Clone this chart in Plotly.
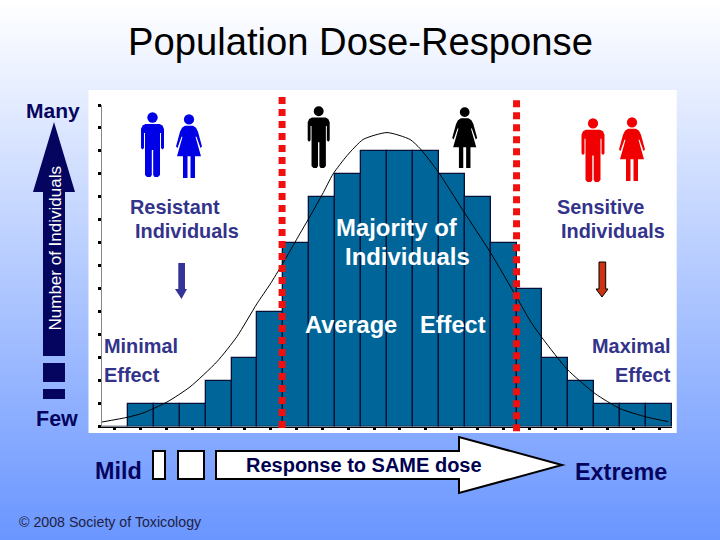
import plotly.graph_objects as go

W, H = 720, 540
FONT = "Liberation Sans"

# ---- data ----
bin_index = list(range(22))
individuals = [0, 1, 1, 1, 2, 3, 5, 8, 10, 11, 12, 12, 12, 11, 10, 8, 6, 3, 2, 1, 1, 1]
curve_x = [-0.5, 0.5, 1.08, 2.01, 2.9, 3.94, 4.71, 5.48, 5.99, 6.45, 7.14, 7.45, 8.0, 8.42, 8.96,
           9.58, 10.5, 11.39, 11.78, 12.47, 13.44, 14.48, 15.52, 16.03, 16.53, 17.45, 18.54,
           19.5, 20.54, 21.35]
curve_y = [0.2, 0.41, 0.59, 1.07, 1.73, 2.83, 3.92, 5.35, 6.2, 7.05, 8.4, 9.0, 10.1, 11.0, 11.8,
           12.5, 12.8, 12.5, 12.1, 11.1, 9.4, 7.6, 5.6, 4.6, 3.8, 2.5, 1.43, 0.78, 0.41, 0.22]
low_cut_x = [6.45, 6.45]
low_cut_y = [-0.06, 14.56]
high_cut_x = [15.5, 15.5]
high_cut_y = [-0.2, 14.43]

TITLE = "Population Dose-Response"

NAVY = "#05055F"
LABEL = "#33338A"
BAR = "#006699"
RED = "#F01010"

MAN = [(0, 12), (7, 12), (10, 13.5), (11.5, 17), (11.5, 36), (10, 37.5), (8.5, 36), (8.5, 21),
       (7.5, 21), (7.5, 63), (5.5, 65), (2, 65), (0.7, 63), (0.7, 38), (0, 38)]
WOMAN = [(0, 12), (4, 12), (7, 14), (9, 18), (13, 33), (11.5, 34.5), (7.5, 23), (6.5, 23),
         (12, 43), (6, 43), (6, 65), (1.5, 65), (1.5, 43), (0, 43)]


def px(x):
    return x / W


def py(y):
    return 1 - y / H


def poly(points, fill, line=None, lw=0):
    d = "M " + " L ".join(f"{px(x):.5f} {py(y):.5f}" for x, y in points) + " Z"
    return dict(type="path", xref="paper", yref="paper", path=d, fillcolor=fill, layer="below",
                line=dict(color=line or fill, width=lw))


def rect(x0, y0, x1, y1, fill, line=None, lw=0):
    return poly([(x0, y0), (x1, y0), (x1, y1), (x0, y1)], fill, line, lw)


def person(half, cx, top, height, width, color):
    sx, sy = width / (2 * max(p[0] for p in half)), height / 65
    right = [(cx + x * sx, top + y * sy) for x, y in half]
    left = [(cx - x * sx, top + y * sy) for x, y in reversed(half)]
    r = 5.2 * sy
    head_cy = top + 5.5 * sy
    return [
        poly(right + left, color),
        dict(type="circle", xref="paper", yref="paper", layer="below", fillcolor=color,
             line=dict(width=0), x0=px(cx - r), x1=px(cx + r), y0=py(head_cy + r), y1=py(head_cy - r)),
    ]


shapes = []
# vertical background gradient, painted back to front
for i in range(0, 135):
    t = i / 134
    c = (round(255 + (106 - 255) * t), round(255 + (150 - 255) * t), 255)
    shapes.append(dict(type="rect", xref="paper", yref="paper", layer="below", x0=0, x1=1,
                       y0=0, y1=py(i * 4), fillcolor=f"rgb{c}", line=dict(width=0)))
# white panel
shapes.append(rect(88.5, 90, 676.7, 433, "#FFFFFF"))
# left vertical arrow and its dashes
shapes.append(poly([(54, 122), (75, 192), (65, 192), (65, 356), (43, 356), (43, 192), (33, 192)], NAVY))
shapes.append(rect(43, 363, 65, 382, NAVY))
shapes.append(rect(43, 389, 65, 399, NAVY))
# bottom arrow with dashes
shapes.append(rect(153, 451, 165, 479, "#FFFFFF", "#000000", 2))
shapes.append(rect(178, 451, 204, 479, "#FFFFFF", "#000000", 2))
shapes.append(poly([(216, 451), (459, 451), (459, 437), (562, 465), (459, 493), (459, 479), (216, 479)],
                   "#FFFFFF", "#000000", 2))
# small down arrows
shapes.append(poly([(178.3, 263), (185, 263), (185, 289), (187, 289), (181.5, 299), (175, 289), (178.3, 289)], "#333399"))
shapes.append(poly([(599, 262), (605.7, 262), (605.7, 289), (608, 289), (602, 297), (596, 289), (599, 289)],
                   "#CC3311", "#000000", 1))
# people
shapes += person(MAN, 152.5, 112, 65, 23, "#0000E6")
shapes += person(WOMAN, 189, 114, 64, 26, "#0000E6")
shapes += person(MAN, 318.7, 106, 62, 22, "#000000")
shapes += person(WOMAN, 464.7, 107, 61, 25, "#000000")
shapes += person(MAN, 593, 118, 64, 23, "#F00000")
shapes += person(WOMAN, 632, 117, 64, 26, "#F00000")


def label(text, x, y, size, color=LABEL, bold=True, anchor="left", angle=0):
    nudge = {"left": -2, "right": 2, "center": 0}[anchor] if angle == 0 else 0
    return dict(text=f"<b>{text}</b>" if bold else text, x=px(x + nudge), y=py(y), xref="paper", yref="paper",
                showarrow=False, xanchor=anchor, yanchor="middle", textangle=angle,
                font=dict(family=FONT, size=size, color=color))


annotations = [
    label("Many", 26, 111, 21, NAVY),
    label("Few", 36, 419, 21.5, NAVY),
    label("Number of Individuals", 55, 248.5, 17, "#FFFFFF", False, "center", -90),
    label("Resistant", 130, 207, 19.9),
    label("Individuals", 135, 231, 19.9),
    label("Minimal", 104, 346, 19.9),
    label("Effect", 104, 375, 19.9),
    label("Majority of", 336, 227, 23.9, "#FFFFFF"),
    label("Individuals", 345, 256, 23.9, "#FFFFFF"),
    label("Average", 305, 325, 23.6, "#FFFFFF"),
    label("Effect", 420, 325, 23.6, "#FFFFFF"),
    label("Sensitive", 557, 207, 19.9),
    label("Individuals", 561, 231, 19.9),
    label("Maximal", 671, 346, 19.9, anchor="right"),
    label("Effect", 671, 375, 19.9, anchor="right"),
    label("Mild", 95, 471, 23.4, NAVY),
    label("Response to SAME dose", 246, 465, 20, "#000050"),
    label("Extreme", 575, 472, 23.4, NAVY),
    label("© 2008 Society of Toxicology", 19, 522, 14.2, "#222244", False),
    label(TITLE, 360, 42, 38.2, "#000000", False, "center"),
]

fig = go.Figure()
fig.add_trace(go.Bar(x=bin_index, y=individuals, width=1, marker=dict(color=BAR, line=dict(color="#041035", width=1.3)),
                     hoverinfo="skip", showlegend=False))
fig.add_trace(go.Scatter(x=curve_x, y=curve_y, mode="lines", line=dict(color="#000000", width=1, shape="spline", smoothing=0.6),
                         hoverinfo="skip", showlegend=False))
for xs, ys in ((low_cut_x, low_cut_y), (high_cut_x, high_cut_y)):
    fig.add_trace(go.Scatter(x=xs, y=ys, xaxis="x2", yaxis="y2", mode="lines",
                             line=dict(color=RED, width=7, dash="7px,5px"),
                             hoverinfo="skip", showlegend=False))

fig.update_layout(
    width=W, height=H, margin=dict(l=0, r=0, t=0, b=0), autosize=False,
    paper_bgcolor="rgba(0,0,0,0)", plot_bgcolor="rgba(0,0,0,0)",
    showlegend=False, shapes=shapes, annotations=annotations, bargap=0,
    font=dict(family=FONT),
    xaxis=dict(domain=[102 / W, 672 / W], range=[-0.5, 21.5], tickmode="linear", tick0=0, dtick=1,
               ticks="outside", ticklen=2, tickwidth=2.5, tickcolor="#000000", showticklabels=False,
               showgrid=False, zeroline=False, showline=True, linecolor="#000000", linewidth=1),
    yaxis=dict(domain=[1 - 426.6 / H, 1 - 105 / H], range=[0, 14], tickmode="linear", tick0=0, dtick=1,
               ticks="outside", ticklen=3, tickwidth=2.5, tickcolor="#000000", showticklabels=False,
               showgrid=False, zeroline=False, showline=True, linecolor="#888888", linewidth=1),
    xaxis2=dict(domain=[102 / W, 672 / W], range=[-0.5, 21.5], visible=False, anchor="y2"),
    yaxis2=dict(domain=[1 - 435 / H, 1 - 90 / H], range=[-0.366, 14.654], visible=False, anchor="x2"),
)
fig.write_html("out.html", config={"displayModeBar": False}, post_script="document.body.style.margin='0';")
